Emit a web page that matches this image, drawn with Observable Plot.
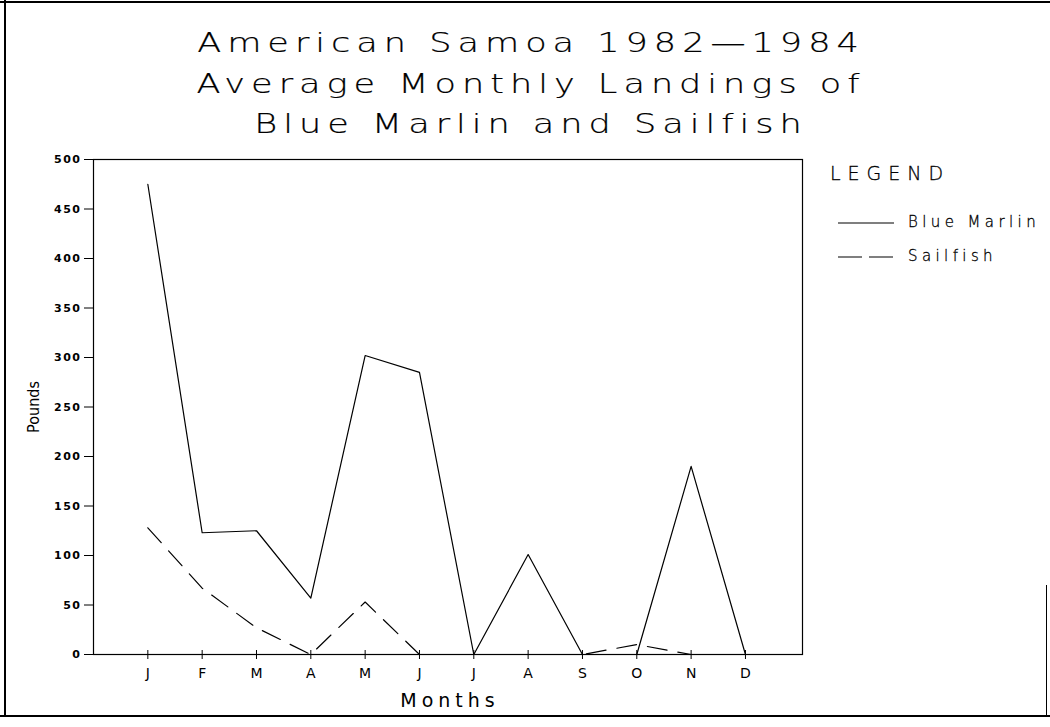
<!DOCTYPE html>
<html>
<head>
<meta charset="utf-8">
<script src="https://cdn.jsdelivr.net/npm/d3@7"></script>
<script src="https://cdn.jsdelivr.net/npm/@observablehq/plot@0.6"></script>
<style>
  html, body { margin: 0; padding: 0; background: #fff; }
  #page { position: relative; width: 1050px; height: 727px; overflow: hidden; font-family: "DejaVu Sans", sans-serif; color: #000; }
  #chart { position: absolute; left: 0; top: 0; }
  .title { position: absolute; left: 0; width: 1062px; text-align: center; font-size: 27px; font-weight: 200; letter-spacing: 4.6px; white-space: nowrap; transform: scaleX(1.3); transform-origin: 531px 50%; -webkit-text-stroke: 0.2px #000; }
  .legend-head { position: absolute; left: 830px; top: 162px; font-size: 19px; font-weight: 200; letter-spacing: 7px; -webkit-text-stroke: 0.3px #000; }
  .legend-row { position: absolute; left: 838px; display: flex; align-items: center; font-size: 15px; font-weight: 200; letter-spacing: 4.4px; -webkit-text-stroke: 0.3px #000; }
  .legend-row svg { margin-right: 14px; }
  .border-top { position: absolute; left: 0; top: 1px; width: 1050px; height: 2px; background: #000; }
  .border-left { position: absolute; left: 4px; top: 0; width: 2px; height: 717px; background: #000; }
  .border-bottom { position: absolute; left: 0; top: 715px; width: 1050px; height: 2px; background: #000; }
  .border-right { position: absolute; left: 1046px; top: 585px; width: 1px; height: 132px; background: #000; }
</style>
</head>
<body>
<div id="page">
  <div id="chart"></div>
  <div class="title" style="top:27px">American Samoa 1982—1984</div>
  <div class="title" style="top:68px">Average Monthly Landings of</div>
  <div class="title" style="top:108px">Blue Marlin and Sailfish</div>
  <div class="legend-head">LEGEND</div>
  <div class="legend-row" style="top:213px"><svg width="56" height="6"><line x1="0" y1="4" x2="56" y2="4" stroke="#000" stroke-width="1.2"/></svg><span>Blue Marlin</span></div>
  <div class="legend-row" style="top:247px"><svg width="56" height="6"><line x1="0" y1="4" x2="56" y2="4" stroke="#000" stroke-width="1.2" stroke-dasharray="24,7"/></svg><span>Sailfish</span></div>
  <div class="border-top"></div>
  <div class="border-left"></div>
  <div class="border-bottom"></div>
  <div class="border-right"></div>
</div>
<script>
const months = ["J","F","M","A","M","J","J","A","S","O","N","D"];
const blueMarlin = [475, 123, 125, 57, 302, 285, 0, 101, 0, 0, 190, 0];
const sailfish   = [128, 67, 27, 0, 53, 0, 0, 0, 0, 10, 0, 0];
const yTicks = [0, 50, 100, 150, 200, 250, 300, 350, 400, 450, 500];
const xTicks = months.map((m, i) => i + 1);

const bmData = months.map((m, i) => ({month: i + 1, value: blueMarlin[i]}));
const sfData = months.map((m, i) => ({month: i + 1, value: sailfish[i]}));

const plot = Plot.plot({
  width: 1050,
  height: 727,
  marginLeft: 93,
  marginRight: 248,
  marginTop: 159,
  marginBottom: 73,
  style: {fontFamily: "DejaVu Sans, sans-serif", color: "#000", background: "transparent"},
  x: {domain: [0, 13.05]},
  y: {domain: [0, 500]},
  marks: [
    Plot.frame({stroke: "#000", strokeWidth: 1.2}),
    Plot.axisY({ticks: yTicks, tickSize: 9, tickPadding: 3, tickFormat: d => String(d), fontSize: 11, fontWeight: "bold", label: null}),
    Plot.axisX({ticks: xTicks, tickSize: 5, tickPadding: 9, tickFormat: d => months[d - 1], fontSize: 14, label: null}),
    Plot.axisX({ticks: xTicks, anchor: "bottom", tickSize: -4, tickFormat: () => "", label: null}),
    Plot.line(bmData, {x: "month", y: "value", stroke: "#000", strokeWidth: 1.2}),
    Plot.line(sfData, {x: "month", y: "value", stroke: "#000", strokeWidth: 1.2, strokeDasharray: "20,11"}),
    Plot.text(["Pounds"], {frameAnchor: "left", textAnchor: "middle", dx: -60, rotate: -90, fontSize: 16, fontFamily: "Liberation Sans Narrow, DejaVu Sans Condensed, sans-serif"}),
    Plot.text(["Months"], {frameAnchor: "bottom", dy: 52, dx: 2, fontSize: 19, fill: "#000"})
  ]
});
const svg = d3.select(plot);
svg.selectAll("text").each(function() {
  const t = this.textContent;
  if (t === "Months") d3.select(this).style("letter-spacing", "5px");
  else if (/^\d+$/.test(t)) d3.select(this).style("letter-spacing", "1.5px");
});
document.getElementById("chart").appendChild(plot);
</script>
</body>
</html>
